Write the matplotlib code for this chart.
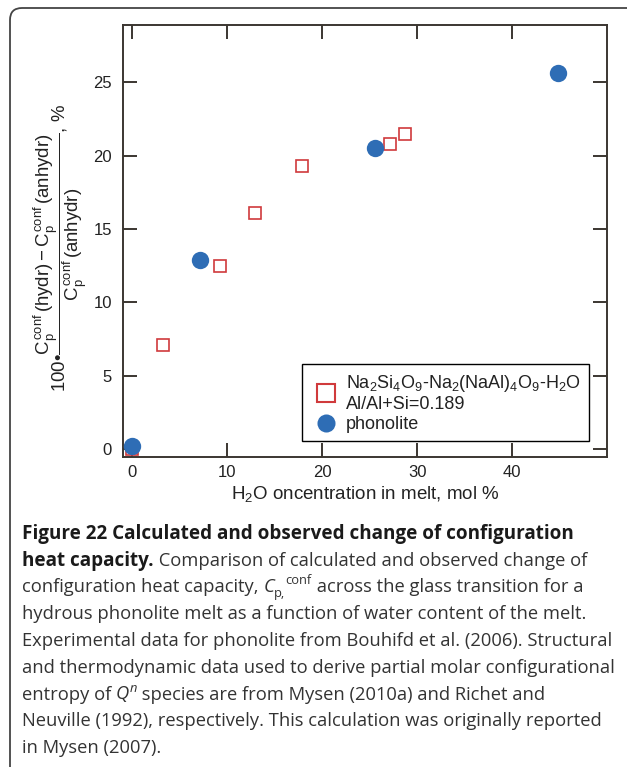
import matplotlib
matplotlib.use("Agg")
import matplotlib.pyplot as plt
from matplotlib.lines import Line2D
from matplotlib.patches import FancyBboxPatch
from matplotlib.transforms import IdentityTransform

# calculated, Na2Si4O9-Na2(NaAl)4O9-H2O
calc_h2o = [0.0, 3.2, 9.2, 12.9, 17.9, 27.1, 28.7]
calc_cp = [0.0, 7.1, 12.5, 16.1, 19.3, 20.8, 21.5]

# observed, phonolite
phon_h2o = [0.0, 7.1, 25.6, 44.8]
phon_cp = [0.2, 12.9, 20.5, 25.6]

xticks = [0, 10, 20, 30, 40]
yticks = [0, 5, 10, 15, 20, 25]

calc_label = ("Na$_2$Si$_4$O$_9$-Na$_2$(NaAl)$_4$O$_9$-H$_2$O\n"
              "Al/Al+Si=0.189")
phon_label = "phonolite"
xlabel = "H$_2$O oncentration in melt, mol %"
ylabel = (r"100•$\dfrac{C_p^{conf}\,(hydr) - C_p^{conf}\,(anhydr)}"
          r"{C_p^{conf}\,(anhydr)}$, %")

# caption: each line is a list of (text, style)
caption = [
    [("Figure 22 Calculated and observed change of configuration", "b")],
    [("heat capacity.", "b"), (" Comparison of calculated and observed change of", "n")],
    [("configuration heat capacity, ", "n"), ("C", "i"), ("p,", "sub"),
     ("conf", "sup"), (" across the glass transition for a", "n")],
    [("hydrous phonolite melt as a function of water content of the melt.", "n")],
    [("Experimental data for phonolite from Bouhifd et al. (2006). Structural", "n")],
    [("and thermodynamic data used to derive partial molar configurational", "n")],
    [("entropy of ", "n"), ("Q", "i"), ("n", "isup"),
     (" species are from Mysen (2010a) and Richet and", "n")],
    [("Neuville (1992), respectively. This calculation was originally reported", "n")],
    [("in Mysen (2007).", "n")],
]

plt.rcParams["font.family"] = ["Liberation Sans", "DejaVu Sans"]
plt.rcParams["mathtext.fontset"] = "custom"
plt.rcParams["mathtext.rm"] = "Liberation Sans"
plt.rcParams["mathtext.it"] = "Liberation Sans"
plt.rcParams["mathtext.bf"] = "Liberation Sans:bold"

W, H = 627, 767
fig = plt.figure(figsize=(W / 100, H / 100), dpi=100)
ax = fig.add_axes([123 / W, 1 - 457 / H, 484 / W, 432 / H])

blue = "#2e6db5"
red = "#d03a3c"
axcol = "#3b3631"

ax.plot(calc_h2o, calc_cp, ls="none", marker="s", ms=8.3, mfc="white",
        mec=red, mew=1.2, zorder=3)
ax.plot(phon_h2o, phon_cp, ls="none", marker="o", ms=12.5, mfc=blue,
        mec=blue, mew=0, zorder=4)

ax.set_xlim(-1, 50)
ax.set_ylim(-0.55, 28.9)
ax.set_xticks(xticks)
ax.set_yticks(yticks)
ax.tick_params(direction="in", length=10, width=1.4, color=axcol,
               top=True, right=True, labelsize=12, labelcolor="#222222")
ax.tick_params(axis="y", pad=8)
ax.tick_params(axis="x", pad=6)
for s in ax.spines.values():
    s.set_color(axcol)
    s.set_linewidth(1.4)

ax.set_xlabel(xlabel, fontsize=13.5, color="#222222", labelpad=3)
ax.text(-0.128, 0.483, ylabel, rotation=90, ha="center", va="center",
        fontsize=13.4, color="#222222", transform=ax.transAxes)

h_calc = Line2D([], [], ls="none", marker="s", ms=13, mfc="white", mec=red, mew=1.5)
h_phon = Line2D([], [], ls="none", marker="o", ms=13, mfc=blue, mec=blue, mew=0)
leg = ax.legend([h_calc, h_phon], [calc_label, phon_label], loc="lower right",
                bbox_to_anchor=(0.963, 0.037), borderaxespad=0, fontsize=13,
                frameon=True, fancybox=False, framealpha=1, edgecolor="black",
                handlelength=1.75, handletextpad=0.25, borderpad=0.45,
                labelspacing=0.15)
leg.get_frame().set_linewidth(1.0)
for t in leg.get_texts():
    t.set_color("#222222")

# rounded panel border
fig.patches.append(FancyBboxPatch((10, -40), 700, H - 8 + 40,
                                  boxstyle="round,pad=0,rounding_size=12",
                                  transform=IdentityTransform(), fill=False,
                                  ec="#444444", lw=1.3))

# caption
cfont = "Open Sans"
csize = 13.2
renderer = fig.canvas.get_renderer()
y0, dy = 539, 26.75
for i, runs in enumerate(caption):
    x = 22
    yb = H - (y0 + i * dy)
    for txt, st in runs:
        kw = dict(family=cfont, size=csize, color="#333333")
        off = 0
        if st == "b":
            kw.update(weight="bold", color="#1a1a1a", size=csize * 1.03)
        elif st == "i":
            kw.update(style="italic")
        elif st == "sub":
            kw.update(size=csize * 0.7)
            off = -4
        elif st == "sup":
            kw.update(size=csize * 0.7)
            off = 8
        elif st == "isup":
            kw.update(size=csize * 0.7, style="italic")
            off = 8
        t = fig.text(x / W, (yb + off) / H, txt, va="baseline", ha="left", **kw)
        x += t.get_window_extent(renderer).width

fig.savefig("out.png", dpi=100)
